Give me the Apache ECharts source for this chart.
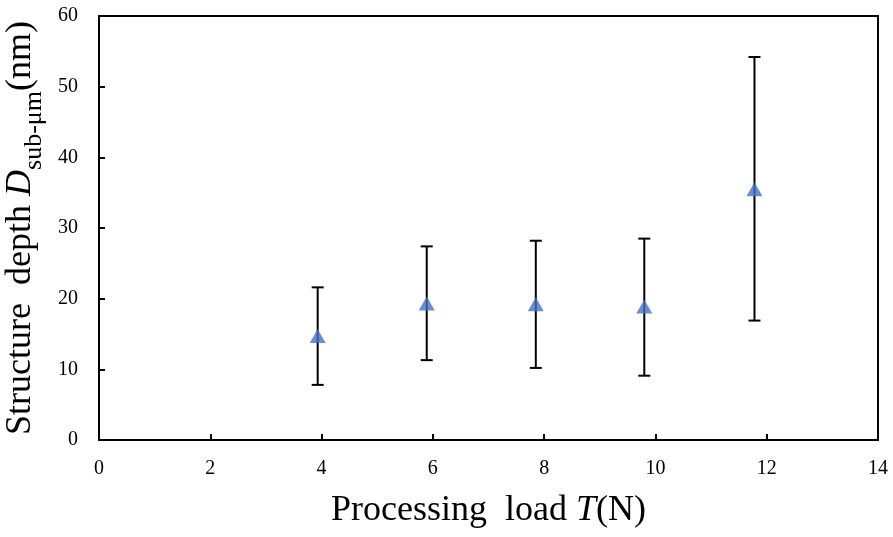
<!DOCTYPE html>
<html>
<head>
<meta charset="utf-8">
<script src="https://cdn.jsdelivr.net/npm/echarts@6/dist/echarts.min.js"></script>
<style>html,body{margin:0;padding:0;background:#fff;}#c{width:893px;height:537px;}</style>
</head>
<body>
<div id="c"></div>
<script>
const loads = [3.93, 5.89, 7.85, 9.80, 11.78];
const depth = [14.7, 19.3, 19.2, 18.9, 35.5];
const upper = [21.6, 27.4, 28.2, 28.5, 54.2];
const lower = [7.8, 11.3, 10.2, 9.1, 16.9];
const xTicks = [0, 2, 4, 6, 8, 10, 12, 14];
const yTicks = [0, 10, 20, 30, 40, 50, 60];

const font = '"Liberation Serif", "Times New Roman", serif';
const chart = echarts.init(document.getElementById('c'));
const errData = loads.map((x, i) => [x, lower[i], upper[i]]);
const ptData = loads.map((x, i) => [x, depth[i]]);

chart.setOption({
  animation: false,
  backgroundColor: '#fff',
  grid: { left: 99, right: 15, top: 16, bottom: 97, show: true, borderColor: '#000', borderWidth: 2,
          containLabel: false, outerBoundsMode: 'none' },
  xAxis: {
    type: 'value', min: xTicks[0], max: xTicks[xTicks.length - 1], interval: 2,
    axisLine: { lineStyle: { color: '#000', width: 2 } },
    axisTick: { inside: true, length: 6, lineStyle: { color: '#000', width: 2 } },
    axisLabel: { color: '#000', fontFamily: font, fontSize: 20, margin: 19 },
    splitLine: { show: false },
    name: '{a|Processing  load }{i|T}{a|(N)}',
    nameLocation: 'middle', nameGap: 53,
    nameTextStyle: { rich: {
      a: { fontFamily: font, fontSize: 36, color: '#000' },
      i: { fontFamily: font, fontSize: 36, color: '#000', fontStyle: 'italic' }
    } }
  },
  yAxis: {
    type: 'value', min: yTicks[0], max: yTicks[yTicks.length - 1], interval: 10,
    axisLine: { lineStyle: { color: '#000', width: 2 } },
    axisTick: { inside: true, length: 6, lineStyle: { color: '#000', width: 2 } },
    axisLabel: { color: '#000', fontFamily: font, fontSize: 20, margin: 21 },
    splitLine: { show: false },
    name: '{a|Structure  depth }{i|D}{s|sub-μm}{a|(nm)}',
    nameLocation: 'middle', nameGap: 58,
    nameTextStyle: { rich: {
      a: { fontFamily: font, fontSize: 36, color: '#000', verticalAlign: 'bottom', lineHeight: 40 },
      i: { fontFamily: font, fontSize: 36, color: '#000', fontStyle: 'italic', verticalAlign: 'bottom', lineHeight: 40 },
      s: { fontFamily: font, fontSize: 26, color: '#000', verticalAlign: 'bottom', lineHeight: 40, padding: [0, 0, -9, 0] }
    } }
  },
  series: [
    {
      type: 'custom',
      renderItem: function (params, api) {
        const x = api.value(0);
        const lo = api.coord([x, api.value(1)]);
        const hi = api.coord([x, api.value(2)]);
        const w = 6;
        const st = { stroke: '#000', lineWidth: 2 };
        return { type: 'group', children: [
          { type: 'line', shape: { x1: lo[0], y1: lo[1], x2: hi[0], y2: hi[1] }, style: st },
          { type: 'line', shape: { x1: lo[0] - w, y1: lo[1], x2: lo[0] + w, y2: lo[1] }, style: st },
          { type: 'line', shape: { x1: hi[0] - w, y1: hi[1], x2: hi[0] + w, y2: hi[1] }, style: st }
        ] };
      },
      encode: { x: 0, y: [1, 2] },
      data: errData, z: 2
    },
    {
      type: 'scatter', symbol: 'triangle', symbolSize: [16, 14],
      itemStyle: { color: '#4472C4' },
      data: ptData, z: 3
    }
  ]
});
</script>
</body>
</html>
